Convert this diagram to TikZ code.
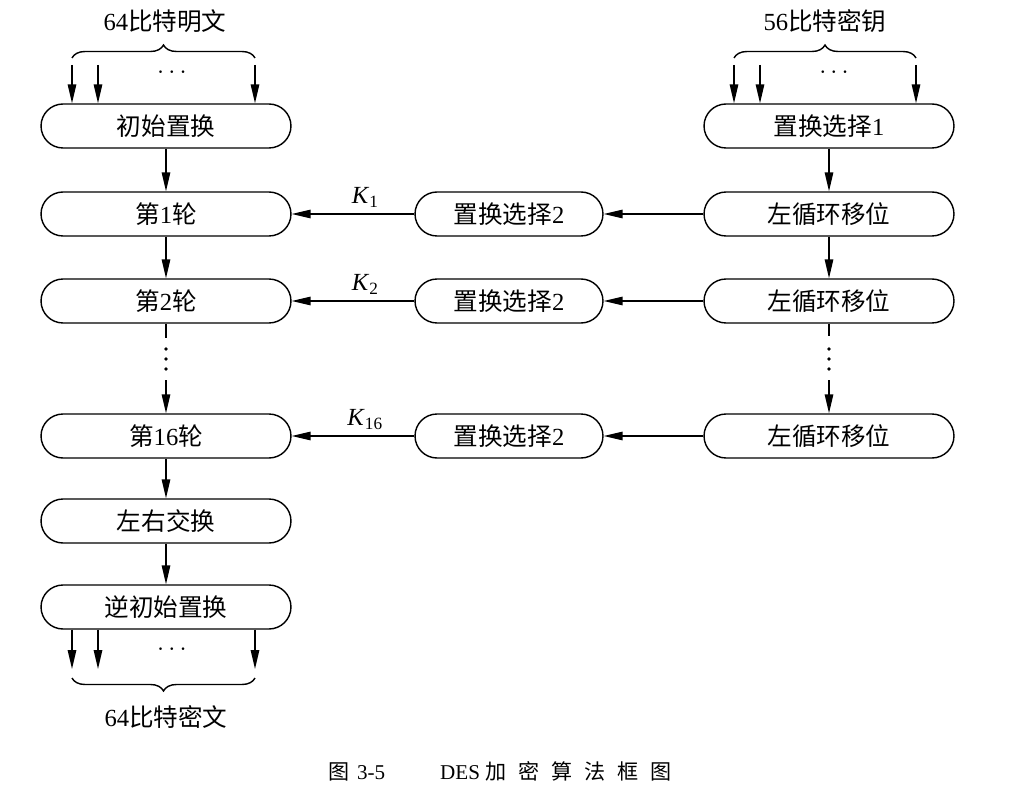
\documentclass[tikz,border=0pt]{standalone}
\usepackage{fontspec}
\setmainfont{Liberation Serif}
\newfontfamily\cjk{Noto Sans CJK SC}
\newcommand\zh[1]{{\cjk #1}}
\newcommand\capgap{\hspace{2.4mm}}
\usetikzlibrary{arrows.meta,decorations.pathreplacing}
\tikzset{
	box/.style={draw, rounded corners=0.44cm, minimum width=5cm, minimum height=0.88cm, inner sep=0pt, font=\fontsize{14}{16}\selectfont},
	keybox/.style={box, minimum width=3.76cm},
	txt/.style={font=\fontsize{14}{16}\selectfont},
	brc/.style={decorate, decoration={brace, amplitude=0.26cm}},
	arr/.style={-{Triangle[length=3.8mm,width=1.7mm]}},
}
\begin{document}
\begin{tikzpicture}[x=0.02cm, y=-0.02cm, line width=0.8pt]
	\useasboundingbox (0,0) rectangle (1010,790);
	% data path
	\node [box] (ip) at (166,126) {\zh{初始置换}};
	\node [box] (r1) at (166,214) {\zh{第}1\zh{轮}};
	\node [box] (r2) at (166,301) {\zh{第}2\zh{轮}};
	\node [box] (r16) at (166,436) {\zh{第}16\zh{轮}};
	\node [box] (sw) at (166,521) {\zh{左右交换}};
	\node [box] (fp) at (166,607) {\zh{逆初始置换}};
	% key path
	\node [box] (pcone) at (829,126) {\zh{置换选择}1};
	\foreach \n/\y in {1/214, 2/301, 16/436} {
		\node [box] (ls\n) at (829,\y) {\zh{左循环移位}};
		\node [keybox] (sel\n) at (509,\y) {\zh{置换选择}2};
		\draw [arr] (ls\n) -- (sel\n);
		\draw [arr] (sel\n) -- node [txt, above, pos=0.4] {\textit{K}\textsubscript{\n}} (r\n);
	}
	\draw [arr] (ip) -- (r1);
	\draw [arr] (r1) -- (r2);
	\draw [arr] (r16) -- (sw);
	\draw [arr] (sw) -- (fp);
	\draw [arr] (pcone) -- (ls1);
	\draw [arr] (ls1) -- (ls2);
	% rounds 3 to 15 left out
	\coordinate (ga) at (166,338);
	\coordinate (gb) at (166,380);
	\coordinate (ka) at (829,336);
	\coordinate (kb) at (829,380);
	\draw (r2) -- (ga);
	\draw [arr] (gb) -- (r16);
	\draw (ls2) -- (ka);
	\draw [arr] (kb) -- (ls16);
	\foreach \y in {349,359,369} {
		\fill (166,\y) circle (1.1pt);
		\fill (829,\y) circle (1.1pt);
	}
	% inputs and output
	\foreach \x [count=\i] in {72,98,255} {
		\coordinate (pt\i) at (\x,65);
		\coordinate (ct\i) at (\x,669);
		\draw [arr] (pt\i) -- (pt\i |- ip.north);
		\draw [arr] (ct\i |- fp.south) -- (ct\i);
	}
	\foreach \x [count=\i] in {734,760,916} {
		\coordinate (kt\i) at (\x,65);
		\draw [arr] (kt\i) -- (kt\i |- pcone.north);
	}
	\node [txt] (pdots) at (172,73) {$\cdots$};
	\node [txt] (kdots) at (834,73) {$\cdots$};
	\node [txt] (cdots) at (172,650) {$\cdots$};
	\draw [brc] (72,58) -- (255,58);
	\draw [brc] (734,58) -- (916,58);
	\draw [brc] (255,678) -- (72,678);
	\node [txt] (ptxt) at (165,21) {64\zh{比特明文}};
	\node [txt] (ktxt) at (825,21) {56\zh{比特密钥}};
	\node [txt] (ctxt) at (166,717) {64\zh{比特密文}};
	% caption
	\node [font=\fontsize{12}{14}\selectfont] (cap) at (500,771) {\zh{图}\hspace{1.5mm}3-5\hspace{11mm}DES\hspace{1mm}\zh{加}\capgap\zh{密}\capgap\zh{算}\capgap\zh{法}\capgap\zh{框}\capgap\zh{图}};
\end{tikzpicture}
\end{document}
